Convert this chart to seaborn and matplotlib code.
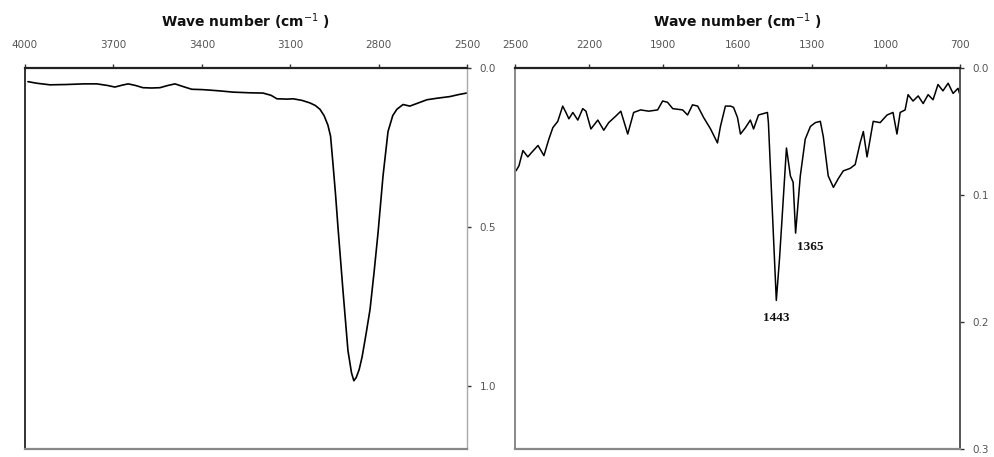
import matplotlib
matplotlib.use("Agg")
import matplotlib.pyplot as plt
import seaborn as sns
import pandas as pd

# ---- data ----
left_wn = [3990, 3960, 3915, 3860, 3800, 3756, 3720, 3695, 3670, 3650, 3625, 3600,
           3570, 3542, 3515, 3491, 3465, 3434, 3400, 3383, 3340, 3294, 3240, 3192,
           3165, 3145, 3110, 3090, 3060, 3033, 3015, 2999, 2985, 2972, 2963, 2955,
           2946, 2938, 2921, 2904, 2892, 2884, 2876, 2866, 2856, 2843, 2829, 2815,
           2802, 2785, 2768, 2752, 2738, 2717, 2694, 2665, 2636, 2600, 2558, 2530, 2502]
left_ab = [0.043, 0.048, 0.053, 0.052, 0.050, 0.050, 0.055, 0.060, 0.054, 0.050, 0.055, 0.062,
           0.063, 0.062, 0.055, 0.050, 0.058, 0.067, 0.068, 0.069, 0.072, 0.076, 0.078, 0.079,
           0.086, 0.097, 0.098, 0.097, 0.102, 0.110, 0.118, 0.130, 0.150, 0.180, 0.215, 0.300,
           0.400, 0.500, 0.700, 0.890, 0.960, 0.985, 0.975, 0.950, 0.910, 0.840, 0.760, 0.640,
           0.520, 0.340, 0.200, 0.150, 0.130, 0.115, 0.120, 0.110, 0.100, 0.095, 0.090, 0.084, 0.079]

right_wn = [2496, 2484, 2468, 2448, 2435, 2407, 2383, 2363, 2347, 2327, 2307, 2294,
            2282, 2266, 2246, 2226, 2213, 2193, 2165, 2141, 2121, 2093, 2072, 2044,
            2020, 1992, 1959, 1923, 1903, 1883, 1862, 1822, 1802, 1782, 1761, 1737,
            1709, 1681, 1669, 1649, 1628, 1616, 1600, 1588, 1568, 1548, 1535, 1515,
            1479, 1475, 1459, 1443, 1430, 1418, 1402, 1386, 1375, 1365, 1346, 1326,
            1305, 1285, 1265, 1253, 1233, 1212, 1192, 1172, 1144, 1124, 1104, 1091,
            1076, 1051, 1023, 995, 971, 955, 942, 922, 910, 890, 869, 849, 829,
            809, 789, 769, 748, 728, 708, 702]
right_ab = [0.081, 0.077, 0.065, 0.070, 0.067, 0.061, 0.069, 0.056, 0.047, 0.042, 0.030, 0.035,
            0.040, 0.035, 0.041, 0.032, 0.034, 0.048, 0.041, 0.049, 0.043, 0.038, 0.034, 0.052,
            0.035, 0.033, 0.034, 0.033, 0.026, 0.027, 0.032, 0.033, 0.037, 0.029, 0.030, 0.039,
            0.048, 0.059, 0.046, 0.030, 0.030, 0.031, 0.039, 0.052, 0.047, 0.041, 0.048, 0.037,
            0.035, 0.043, 0.113, 0.183, 0.150, 0.113, 0.063, 0.085, 0.090, 0.130, 0.085, 0.056,
            0.046, 0.043, 0.042, 0.054, 0.085, 0.094, 0.087, 0.081, 0.079, 0.076, 0.059, 0.050,
            0.070, 0.042, 0.043, 0.037, 0.035, 0.052, 0.035, 0.033, 0.021, 0.026, 0.022, 0.028, 0.021,
            0.025, 0.013, 0.018, 0.012, 0.020, 0.016, 0.020]

left_xticks = [4000, 3700, 3400, 3100, 2800, 2500]
left_yticks = [0.0, 0.5, 1.0]
right_xticks = [2500, 2200, 1900, 1600, 1300, 1000, 700]
right_yticks = [0.0, 0.1, 0.2, 0.3]
peak_labels = ["1443", "1365"]
peak_wn = [1443, 1365]
peak_ab = [0.183, 0.130]
xlabel = "Wave number (cm$^{-1}$ )"

sns.set_style("white")
plt.rcParams['font.family'] = ['DejaVu Sans']

fig = plt.figure(figsize=(9.94, 4.57), dpi=100)
bottom_px = 449
axL = fig.add_axes([25 / 994, 1 - bottom_px / 457, 442 / 994, (bottom_px - 68) / 457])
axR = fig.add_axes([515 / 994, 1 - bottom_px / 457, 445 / 994, (bottom_px - 68) / 457])

dfL = pd.DataFrame({"wn": left_wn, "ab": left_ab})
dfR = pd.DataFrame({"wn": right_wn, "ab": right_ab})
sns.lineplot(data=dfL, x="wn", y="ab", ax=axL, color="black", lw=1.2, sort=False)
sns.lineplot(data=dfR, x="wn", y="ab", ax=axR, color="black", lw=1.1, sort=False)

axL.set_xlim(4000, 2500)
axL.set_ylim(1.2, 0.0)
axR.set_xlim(2500, 700)
axR.set_ylim(0.3, 0.0)

for ax, xt, yt in [(axL, left_xticks, left_yticks), (axR, right_xticks, right_yticks)]:
    ax.set_xticks(xt)
    ax.set_xticklabels([str(v) for v in xt])
    ax.set_yticks(yt)
    ax.set_yticklabels(["{:.1f}".format(v) for v in yt])
    ax.xaxis.tick_top()
    ax.xaxis.set_label_position("top")
    ax.yaxis.tick_right()
    ax.set_ylabel("")
    ax.set_xlabel(xlabel, fontsize=10, fontweight="bold", labelpad=9, color="#111111")
    ax.tick_params(axis="x", which="both", direction="out", length=3, width=1,
                   color="#333333", labelsize=7.5, labelcolor="#555555", pad=10)
    ax.tick_params(axis="y", which="both", direction="out", length=3, width=1,
                   color="#333333", labelsize=7.5, labelcolor="#555555", pad=6)
    for s in ax.spines.values():
        s.set_visible(True)
    ax.spines["top"].set_color("#222222")
    ax.spines["top"].set_linewidth(1.6)
    ax.spines["bottom"].set_color("#888888")
    ax.spines["bottom"].set_linewidth(1.6)
    ax.set_facecolor("white")

axL.spines["left"].set_color("#333333")
axL.spines["left"].set_linewidth(1.4)
axL.spines["right"].set_color("#aaaaaa")
axL.spines["right"].set_linewidth(1.0)
axR.spines["left"].set_color("#888888")
axR.spines["left"].set_linewidth(1.4)
axR.spines["right"].set_color("#555555")
axR.spines["right"].set_linewidth(1.4)

# peak annotations
axR.text(peak_wn[0], peak_ab[0] + 0.009, peak_labels[0], ha="center", va="top",
         fontsize=9.5, fontweight="bold", family=["Liberation Serif"], color="#111111")
axR.text(peak_wn[1] - 6, peak_ab[1] + 0.006, peak_labels[1], ha="left", va="top",
         fontsize=9.5, fontweight="bold", family=["Liberation Serif"], color="#111111")

fig.savefig("out.png", dpi=100, facecolor="white")
